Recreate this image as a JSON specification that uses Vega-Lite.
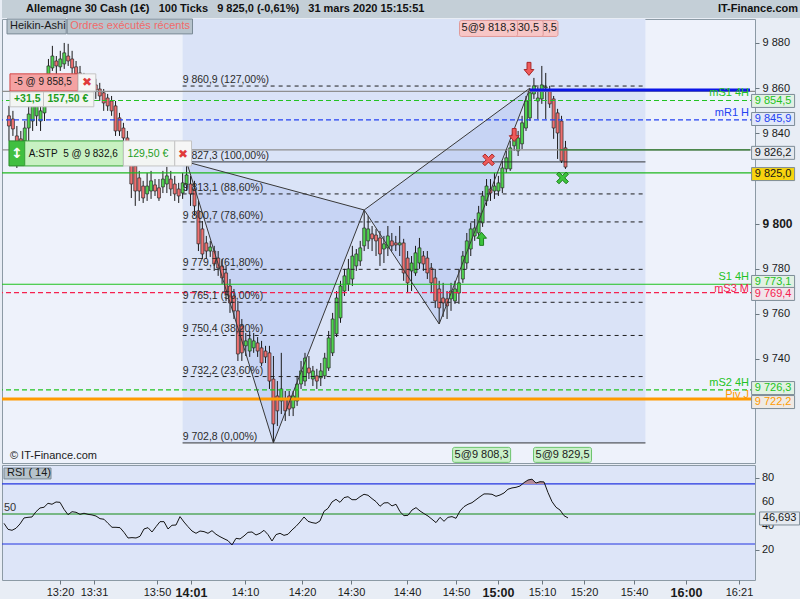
{
  "$schema": "https://vega.github.io/schema/vega-lite/v6.json",
  "description": "Allemagne 30 Cash, bougies Heikin-Ashi 100 ticks avec retracements de Fibonacci et RSI(14)",
  "background": "#e8edf5",
  "padding": 0,
  "spacing": 0,
  "config": {"font": "Liberation Sans", "view": {"stroke": null}, "axis": {"labelOverlap": false, "labelBound": false}},
  "datasets": {
    "bougies": [
      {"i":0,"o":9847.7,"h":9852.1,"l":9836.6,"c":9843.2},{"i":1,"o":9846.3,"h":9849.9,"l":9838.8,"c":9841.9},
      {"i":2,"o":9838.8,"h":9843.2,"l":9824.6,"c":9834.4},{"i":3,"o":9837.5,"h":9841.0,"l":9825.5,"c":9835.7},
      {"i":4,"o":9836.6,"h":9845.4,"l":9832.2,"c":9842.3},{"i":5,"o":9842.3,"h":9852.1,"l":9836.6,"c":9848.5},
      {"i":6,"o":9845.4,"h":9856.5,"l":9841.0,"c":9852.1},{"i":7,"o":9847.7,"h":9858.7,"l":9843.2,"c":9855.6},
      {"i":8,"o":9845.4,"h":9856.5,"l":9841.0,"c":9849.9},{"i":9,"o":9849.0,"h":9863.2,"l":9845.4,"c":9858.7},
      {"i":10,"o":9863.2,"h":9872.9,"l":9858.7,"c":9869.8},{"i":11,"o":9868.9,"h":9878.7,"l":9867.6,"c":9874.2},
      {"i":12,"o":9872.0,"h":9874.2,"l":9865.4,"c":9869.8},{"i":13,"o":9869.4,"h":9876.5,"l":9867.6,"c":9872.9},
      {"i":14,"o":9870.7,"h":9880.0,"l":9868.5,"c":9875.6},{"i":15,"o":9874.2,"h":9879.6,"l":9869.8,"c":9872.0},
      {"i":16,"o":9872.9,"h":9876.5,"l":9865.4,"c":9868.9},{"i":17,"o":9869.4,"h":9872.0,"l":9863.2,"c":9866.3},
      {"i":18,"o":9866.7,"h":9869.8,"l":9858.7,"c":9863.2},{"i":19,"o":9864.1,"h":9866.7,"l":9857.9,"c":9861.4},
      {"i":20,"o":9863.2,"h":9865.4,"l":9856.5,"c":9860.5},{"i":21,"o":9862.3,"h":9864.5,"l":9855.6,"c":9859.6},
      {"i":22,"o":9861.4,"h":9864.1,"l":9855.2,"c":9859.2},{"i":23,"o":9859.6,"h":9862.3,"l":9854.3,"c":9856.5},
      {"i":24,"o":9857.9,"h":9859.6,"l":9849.9,"c":9853.4},{"i":25,"o":9855.6,"h":9857.4,"l":9849.9,"c":9852.1},
      {"i":26,"o":9854.3,"h":9856.5,"l":9847.7,"c":9849.9},{"i":27,"o":9852.1,"h":9854.3,"l":9838.8,"c":9841.0},
      {"i":28,"o":9846.8,"h":9849.0,"l":9838.8,"c":9841.0},{"i":29,"o":9842.3,"h":9844.6,"l":9835.7,"c":9837.9},
      {"i":30,"o":9837.9,"h":9841.0,"l":9832.2,"c":9834.4},{"i":31,"o":9829.1,"h":9834.4,"l":9811.3,"c":9817.5},
      {"i":32,"o":9825.5,"h":9827.7,"l":9807.8,"c":9814.4},{"i":33,"o":9820.2,"h":9823.3,"l":9810.0,"c":9814.4},
      {"i":34,"o":9816.6,"h":9818.9,"l":9809.1,"c":9811.3},{"i":35,"o":9813.1,"h":9822.4,"l":9810.0,"c":9816.6},
      {"i":36,"o":9814.4,"h":9823.3,"l":9810.9,"c":9818.9},{"i":37,"o":9817.1,"h":9819.7,"l":9812.2,"c":9814.4},
      {"i":38,"o":9815.8,"h":9819.7,"l":9810.0,"c":9811.3},{"i":39,"o":9816.2,"h":9823.3,"l":9813.5,"c":9819.7},
      {"i":40,"o":9817.5,"h":9825.1,"l":9813.5,"c":9821.1},{"i":41,"o":9819.7,"h":9823.3,"l":9812.2,"c":9815.3},
      {"i":42,"o":9817.5,"h":9821.1,"l":9810.0,"c":9813.1},{"i":43,"o":9815.3,"h":9818.0,"l":9809.1,"c":9812.2},
      {"i":44,"o":9813.5,"h":9822.4,"l":9810.9,"c":9818.0},{"i":45,"o":9817.1,"h":9827.3,"l":9814.4,"c":9821.5},
      {"i":46,"o":9817.5,"h":9821.1,"l":9807.8,"c":9813.1},{"i":47,"o":9815.3,"h":9818.9,"l":9803.4,"c":9807.8},
      {"i":48,"o":9805.6,"h":9810.0,"l":9787.8,"c":9791.0},{"i":49,"o":9797.6,"h":9801.1,"l":9784.3,"c":9786.5},
      {"i":50,"o":9791.4,"h":9794.5,"l":9784.3,"c":9787.8},{"i":51,"o":9787.8,"h":9792.3,"l":9785.2,"c":9789.6},
      {"i":52,"o":9787.8,"h":9790.1,"l":9779.0,"c":9782.1},{"i":53,"o":9784.7,"h":9787.8,"l":9776.8,"c":9780.3},
      {"i":54,"o":9781.2,"h":9784.3,"l":9773.2,"c":9775.9},{"i":55,"o":9778.1,"h":9781.2,"l":9765.7,"c":9769.2},
      {"i":56,"o":9772.3,"h":9775.4,"l":9760.4,"c":9764.8},{"i":57,"o":9767.9,"h":9771.0,"l":9757.7,"c":9761.3},
      {"i":58,"o":9761.3,"h":9765.7,"l":9739.1,"c":9742.2},{"i":59,"o":9754.6,"h":9757.7,"l":9739.1,"c":9742.7},
      {"i":60,"o":9745.8,"h":9751.5,"l":9741.3,"c":9748.0},{"i":61,"o":9743.5,"h":9752.4,"l":9740.9,"c":9748.9},
      {"i":62,"o":9744.9,"h":9751.5,"l":9742.7,"c":9748.0},{"i":63,"o":9747.1,"h":9749.7,"l":9740.9,"c":9743.5},
      {"i":64,"o":9744.9,"h":9748.0,"l":9736.9,"c":9738.2},{"i":65,"o":9743.5,"h":9745.8,"l":9738.2,"c":9740.9},
      {"i":66,"o":9742.7,"h":9745.8,"l":9726.7,"c":9730.2},{"i":67,"o":9731.1,"h":9741.3,"l":9702.8,"c":9711.2},
      {"i":68,"o":9723.6,"h":9730.2,"l":9710.3,"c":9717.0},{"i":69,"o":9721.4,"h":9742.7,"l":9715.6,"c":9726.7},
      {"i":70,"o":9722.3,"h":9725.8,"l":9712.5,"c":9717.0},{"i":71,"o":9723.6,"h":9725.8,"l":9714.7,"c":9717.8},
      {"i":72,"o":9718.3,"h":9725.8,"l":9714.7,"c":9723.6},{"i":73,"o":9721.4,"h":9732.5,"l":9719.2,"c":9728.9},
      {"i":74,"o":9728.9,"h":9739.1,"l":9726.7,"c":9734.7},{"i":75,"o":9730.2,"h":9742.7,"l":9728.0,"c":9740.4},
      {"i":76,"o":9736.0,"h":9741.3,"l":9731.1,"c":9733.8},{"i":77,"o":9731.1,"h":9736.9,"l":9728.0,"c":9734.7},
      {"i":78,"o":9732.5,"h":9735.6,"l":9726.7,"c":9730.2},{"i":79,"o":9731.6,"h":9738.2,"l":9728.0,"c":9734.7},
      {"i":80,"o":9732.5,"h":9742.7,"l":9731.1,"c":9740.4},{"i":81,"o":9736.0,"h":9752.4,"l":9734.7,"c":9749.3},
      {"i":82,"o":9742.7,"h":9760.4,"l":9741.3,"c":9757.7},{"i":83,"o":9751.1,"h":9770.1,"l":9749.7,"c":9767.0},
      {"i":84,"o":9758.2,"h":9774.6,"l":9756.0,"c":9772.3},{"i":85,"o":9770.1,"h":9779.9,"l":9767.9,"c":9776.8},
      {"i":86,"o":9773.2,"h":9784.3,"l":9770.1,"c":9779.9},{"i":87,"o":9775.4,"h":9790.1,"l":9772.3,"c":9785.6},
      {"i":88,"o":9781.2,"h":9788.7,"l":9779.0,"c":9786.5},{"i":89,"o":9783.4,"h":9792.3,"l":9781.2,"c":9789.2},
      {"i":90,"o":9790.1,"h":9806.0,"l":9787.8,"c":9798.0},{"i":91,"o":9792.3,"h":9803.4,"l":9788.7,"c":9797.6},
      {"i":92,"o":9795.4,"h":9798.9,"l":9787.8,"c":9793.2},{"i":93,"o":9794.9,"h":9797.6,"l":9785.6,"c":9792.3},
      {"i":94,"o":9793.6,"h":9796.7,"l":9781.2,"c":9786.5},{"i":95,"o":9788.7,"h":9794.5,"l":9782.5,"c":9791.0},
      {"i":96,"o":9789.2,"h":9798.9,"l":9785.6,"c":9794.5},{"i":97,"o":9792.3,"h":9795.8,"l":9787.8,"c":9790.1},
      {"i":98,"o":9791.4,"h":9794.5,"l":9787.8,"c":9790.5},{"i":99,"o":9790.5,"h":9798.9,"l":9785.6,"c":9791.4},
      {"i":100,"o":9791.4,"h":9793.2,"l":9774.6,"c":9778.1},{"i":101,"o":9784.7,"h":9787.8,"l":9769.2,"c":9773.7},
      {"i":102,"o":9779.0,"h":9785.6,"l":9770.1,"c":9782.5},{"i":103,"o":9778.1,"h":9790.1,"l":9776.8,"c":9787.0},
      {"i":104,"o":9782.5,"h":9793.6,"l":9779.9,"c":9789.2},{"i":105,"o":9785.6,"h":9787.8,"l":9779.0,"c":9782.1},
      {"i":106,"o":9784.7,"h":9787.8,"l":9775.4,"c":9778.1},{"i":107,"o":9780.3,"h":9782.5,"l":9769.2,"c":9773.7},
      {"i":108,"o":9775.9,"h":9779.9,"l":9762.6,"c":9765.7},{"i":109,"o":9771.0,"h":9774.6,"l":9755.5,"c":9762.6},
      {"i":110,"o":9767.0,"h":9773.7,"l":9758.6,"c":9764.8},{"i":111,"o":9766.6,"h":9770.1,"l":9757.7,"c":9763.5},
      {"i":112,"o":9766.6,"h":9773.7,"l":9761.3,"c":9770.1},{"i":113,"o":9765.7,"h":9774.6,"l":9764.4,"c":9771.0},
      {"i":114,"o":9769.2,"h":9779.9,"l":9764.4,"c":9773.7},{"i":115,"o":9775.4,"h":9787.8,"l":9773.7,"c":9785.6},
      {"i":116,"o":9782.5,"h":9795.8,"l":9779.9,"c":9792.3},{"i":117,"o":9788.7,"h":9800.3,"l":9785.6,"c":9797.6},
      {"i":118,"o":9794.5,"h":9802.0,"l":9792.3,"c":9798.0},{"i":119,"o":9795.8,"h":9807.8,"l":9793.2,"c":9804.7},
      {"i":120,"o":9800.3,"h":9814.4,"l":9798.5,"c":9812.2},{"i":121,"o":9810.0,"h":9819.7,"l":9807.8,"c":9816.6},
      {"i":122,"o":9815.3,"h":9819.7,"l":9810.0,"c":9813.5},{"i":123,"o":9814.4,"h":9822.4,"l":9810.9,"c":9816.6},
      {"i":124,"o":9814.4,"h":9821.1,"l":9812.2,"c":9818.0},{"i":125,"o":9815.8,"h":9827.7,"l":9813.5,"c":9824.6},
      {"i":126,"o":9824.2,"h":9832.2,"l":9822.4,"c":9829.1},{"i":127,"o":9824.2,"h":9836.6,"l":9823.3,"c":9833.5},
      {"i":128,"o":9834.4,"h":9841.9,"l":9832.2,"c":9838.8},{"i":129,"o":9832.2,"h":9841.0,"l":9829.9,"c":9837.9},
      {"i":130,"o":9835.3,"h":9847.7,"l":9833.0,"c":9844.6},{"i":131,"o":9842.3,"h":9856.5,"l":9841.0,"c":9854.3},
      {"i":132,"o":9846.8,"h":9859.6,"l":9845.4,"c":9857.9},{"i":133,"o":9857.4,"h":9864.5,"l":9855.2,"c":9861.0},
      {"i":134,"o":9854.3,"h":9860.5,"l":9846.3,"c":9855.6},{"i":135,"o":9855.2,"h":9869.8,"l":9853.0,"c":9861.4},
      {"i":136,"o":9860.1,"h":9866.7,"l":9846.3,"c":9860.5},{"i":137,"o":9858.7,"h":9861.0,"l":9851.2,"c":9853.0},
      {"i":138,"o":9855.2,"h":9856.5,"l":9837.5,"c":9842.3},{"i":139,"o":9849.0,"h":9850.8,"l":9828.6,"c":9840.1},
      {"i":140,"o":9845.4,"h":9847.7,"l":9826.8,"c":9827.7},{"i":141,"o":9833.5,"h":9836.6,"l":9824.2,"c":9825.0}
    ],
    "rsi": [
      {"i":0,"rsi":42.2},{"i":1,"rsi":37.2},{"i":2,"rsi":36.4},{"i":3,"rsi":38.1},{"i":4,"rsi":41.7},{"i":5,"rsi":46.7},
      {"i":6,"rsi":47.2},{"i":7,"rsi":47.5},{"i":8,"rsi":51.9},{"i":9,"rsi":55.0},{"i":10,"rsi":55.6},{"i":11,"rsi":58.9},
      {"i":12,"rsi":58.1},{"i":13,"rsi":60.0},{"i":14,"rsi":59.7},{"i":15,"rsi":53.9},{"i":16,"rsi":49.4},{"i":17,"rsi":51.9},
      {"i":18,"rsi":51.4},{"i":19,"rsi":49.7},{"i":20,"rsi":50.6},{"i":21,"rsi":49.7},{"i":22,"rsi":49.2},{"i":23,"rsi":48.3},
      {"i":24,"rsi":46.1},{"i":25,"rsi":45.6},{"i":26,"rsi":42.2},{"i":27,"rsi":38.9},{"i":28,"rsi":38.9},{"i":29,"rsi":38.6},
      {"i":30,"rsi":34.7},{"i":31,"rsi":30.0},{"i":32,"rsi":30.3},{"i":33,"rsi":30.0},{"i":34,"rsi":31.4},{"i":35,"rsi":37.5},
      {"i":36,"rsi":38.6},{"i":37,"rsi":35.0},{"i":38,"rsi":39.4},{"i":39,"rsi":43.6},{"i":40,"rsi":43.6},{"i":41,"rsi":37.5},
      {"i":42,"rsi":40.6},{"i":43,"rsi":40.8},{"i":44,"rsi":47.8},{"i":45,"rsi":43.3},{"i":46,"rsi":39.4},{"i":47,"rsi":35.8},
      {"i":48,"rsi":33.9},{"i":49,"rsi":35.8},{"i":50,"rsi":35.3},{"i":51,"rsi":33.9},{"i":52,"rsi":36.1},{"i":53,"rsi":33.1},
      {"i":54,"rsi":31.1},{"i":55,"rsi":29.4},{"i":56,"rsi":27.8},{"i":57,"rsi":24.2},{"i":58,"rsi":29.7},{"i":59,"rsi":29.2},
      {"i":60,"rsi":31.7},{"i":61,"rsi":34.7},{"i":62,"rsi":35.0},{"i":63,"rsi":32.5},{"i":64,"rsi":33.9},{"i":65,"rsi":36.4},
      {"i":66,"rsi":32.8},{"i":67,"rsi":27.5},{"i":68,"rsi":32.8},{"i":69,"rsi":33.9},{"i":70,"rsi":32.2},{"i":71,"rsi":33.1},
      {"i":72,"rsi":36.7},{"i":73,"rsi":39.7},{"i":74,"rsi":43.3},{"i":75,"rsi":47.5},{"i":76,"rsi":43.9},{"i":77,"rsi":42.8},
      {"i":78,"rsi":42.2},{"i":79,"rsi":44.2},{"i":80,"rsi":52.2},{"i":81,"rsi":54.7},{"i":82,"rsi":60.0},{"i":83,"rsi":62.2},
      {"i":84,"rsi":59.7},{"i":85,"rsi":63.6},{"i":86,"rsi":64.4},{"i":87,"rsi":61.9},{"i":88,"rsi":61.9},{"i":89,"rsi":64.4},
      {"i":90,"rsi":66.4},{"i":91,"rsi":65.6},{"i":92,"rsi":62.8},{"i":93,"rsi":60.3},{"i":94,"rsi":56.4},{"i":95,"rsi":59.2},
      {"i":96,"rsi":59.4},{"i":97,"rsi":56.7},{"i":98,"rsi":58.1},{"i":99,"rsi":51.9},{"i":100,"rsi":48.6},{"i":101,"rsi":48.9},
      {"i":102,"rsi":53.3},{"i":103,"rsi":55.3},{"i":104,"rsi":52.5},{"i":105,"rsi":50.3},{"i":106,"rsi":48.3},{"i":107,"rsi":45.6},
      {"i":108,"rsi":42.8},{"i":109,"rsi":47.2},{"i":110,"rsi":43.9},{"i":111,"rsi":47.2},{"i":112,"rsi":47.8},{"i":113,"rsi":46.4},
      {"i":114,"rsi":52.5},{"i":115,"rsi":56.1},{"i":116,"rsi":58.1},{"i":117,"rsi":59.4},{"i":118,"rsi":61.9},{"i":119,"rsi":64.4},
      {"i":120,"rsi":66.7},{"i":121,"rsi":66.7},{"i":122,"rsi":66.4},{"i":123,"rsi":64.7},{"i":124,"rsi":65.8},{"i":125,"rsi":67.5},
      {"i":126,"rsi":70.6},{"i":127,"rsi":71.7},{"i":128,"rsi":72.2},{"i":129,"rsi":73.3},{"i":130,"rsi":76.1},{"i":131,"rsi":78.3},
      {"i":132,"rsi":79.0},{"i":133,"rsi":75.8},{"i":134,"rsi":76.9},{"i":135,"rsi":76.7},{"i":136,"rsi":67.8},{"i":137,"rsi":60.3},
      {"i":138,"rsi":55.6},{"i":139,"rsi":53.3},{"i":140,"rsi":48.6},{"i":141,"rsi":46.7}
    ],
    "rsiNiveaux": [{"niveau": 75}, {"niveau": 50}, {"niveau": 25}],
    "rsiGraduations": [{"valeur": 20}, {"valeur": 40}, {"valeur": 60}, {"valeur": 80}],
    "niveaux": [
      {"nom": "Ordre", "prix": 9858.5},
      {"nom": "mS1 4H", "prix": 9854.5},
      {"nom": "mR1 H", "prix": 9845.9},
      {"nom": "Stop", "prix": 9832.6},
      {"nom": "Niveau", "prix": 9822.4},
      {"nom": "S1 4H", "prix": 9773.1},
      {"nom": "mS3 M", "prix": 9769.4},
      {"nom": "mS2 4H", "prix": 9726.3},
      {"nom": "Piv J", "prix": 9722.2}
    ],
    "segments": [
      {"nom": "Tendance", "prix": 9859.1, "debut": 132},
      {"nom": "Stop suiveur", "prix": 9832.6, "debut": 139.5}
    ],
    "fibo": [
      {"prix": 9860.9, "pct": 127, "texte": "9 860,9 (127,00%)"},
      {"prix": 9827.3, "pct": 100, "texte": "9 827,3 (100,00%)"},
      {"prix": 9813.1, "pct": 88.6, "texte": "9 813,1 (88,60%)"},
      {"prix": 9800.7, "pct": 78.6, "texte": "9 800,7 (78,60%)"},
      {"prix": 9779.7, "pct": 61.8, "texte": "9 779,7 (61,80%)"},
      {"prix": 9765.1, "pct": 50, "texte": "9 765,1 (50,00%)"},
      {"prix": 9750.4, "pct": 38.2, "texte": "9 750,4 (38,20%)"},
      {"prix": 9732.2, "pct": 23.6, "texte": "9 732,2 (23,60%)"},
      {"prix": 9702.8, "pct": 0, "texte": "9 702,8 (0,00%)"}
    ],
    "triangles": [
      {"tri": "XAB", "bar": 45, "haut": 9827.3, "bas": 9827.3},
      {"tri": "XAB", "bar": 67, "haut": 9816.9, "bas": 9702.8},
      {"tri": "XAB", "bar": 90, "haut": 9806.0, "bas": 9806.0},
      {"tri": "BCD", "bar": 90, "haut": 9806.0, "bas": 9806.0},
      {"tri": "BCD", "bar": 109, "haut": 9830.4, "bas": 9755.5},
      {"tri": "BCD", "bar": 132, "haut": 9860.0, "bas": 9860.0}
    ],
    "motif": [
      {"trace": "XABCD", "ordre": 1, "bar": 45, "prix": 9827.3},
      {"trace": "XABCD", "ordre": 2, "bar": 67, "prix": 9702.8},
      {"trace": "XABCD", "ordre": 3, "bar": 90, "prix": 9806.0},
      {"trace": "XABCD", "ordre": 4, "bar": 109, "prix": 9755.5},
      {"trace": "XABCD", "ordre": 5, "bar": 132, "prix": 9860.0},
      {"trace": "XBD", "ordre": 1, "bar": 45, "prix": 9827.3},
      {"trace": "XBD", "ordre": 2, "bar": 90, "prix": 9806.0},
      {"trace": "XBD", "ordre": 3, "bar": 132, "prix": 9860.0}
    ],
    "executions": [
      {"bar": 119.75, "prix": 9793.2, "genre": "achat", "texte": "5@9 808,3", "visible": "5@9 808,3"},
      {"bar": 121.5, "prix": 9828.2, "genre": "clôture achat", "texte": "5@9 818,3", "visible": "5@9 818,3"},
      {"bar": 128, "prix": 9839.2, "genre": "vente", "texte": "5@9 830,5", "visible": "30,5"},
      {"bar": 131.75, "prix": 9868.5, "genre": "vente", "texte": "5@9 858,5", "visible": "8,5"},
      {"bar": 140.25, "prix": 9820.2, "genre": "clôture vente", "texte": "5@9 829,5", "visible": "5@9 829,5"}
    ],
    "etiquettes": [
      {"nom": "mS1 4H", "texte": "9 854,5", "prix": 9854.3},
      {"nom": "mR1 H", "texte": "9 845,9", "prix": 9846.3},
      {"nom": "HA", "texte": "9 826,2", "prix": 9831.3},
      {"nom": "Cours", "texte": "9 825,0", "prix": 9821.9},
      {"nom": "S1 4H", "texte": "9 773,1", "prix": 9774.1},
      {"nom": "mS3 M", "texte": "9 769,4", "prix": 9768.8},
      {"nom": "mS2 4H", "texte": "9 726,3", "prix": 9727.1},
      {"nom": "Piv J", "texte": "9 722,2", "prix": 9720.9}
    ]
  },
  "vconcat": [
    {
      "width": 800,
      "height": 18,
      "view": {"fill": "#c4cfd7", "stroke": null},
      "data": {"values": [
        {"cote": "gauche", "texte": "Allemagne 30 Cash (1€)\u00a0\u00a0\u00a0100 Ticks\u00a0\u00a0\u00a09 825,0 (-0,61%)\u00a0\u00a0\u00a031 mars 2020 15:15:51"},
        {"cote": "droite", "texte": "IT-Finance.com"}
      ]},
      "encoding": {
        "x": {"field": "cote", "type": "nominal", "scale": {"domain": ["gauche", "droite"], "range": [24, 796], "padding": 0}, "axis": null},
        "text": {"field": "texte"}
      },
      "layer": [
        {"transform": [{"filter": "datum.cote == 'gauche'"}], "mark": {"type": "text", "align": "left", "fontSize": 11, "fontWeight": "bold", "color": "#111111"}},
        {"transform": [{"filter": "datum.cote == 'droite'"}], "mark": {"type": "text", "align": "right", "fontSize": 11, "fontWeight": "bold", "color": "#111111"}}
      ]
    },
    {
      "spacing": 0,
      "vconcat": [
        {
          "width": 753,
          "height": 444,
          "view": {"fill": "#eef2fb", "stroke": "#8c9aa5"},
          "layer": [
            {
              "data": {"name": "fibo"},
              "transform": [{"filter": "datum.pct == 0"}],
              "mark": {"type": "rect", "fill": "#dae3f7"},
              "encoding": {
                "x": {"datum": 44, "type": "quantitative", "axis": null},
                "x2": {"datum": 161.25},
                "y": {"field": "prix", "type": "quantitative"},
                "y2": {"datum": 9890.6}
              }
            },
            {
              "data": {"name": "triangles"},
              "mark": {"type": "area", "fill": "#c7d4f4", "interpolate": "linear"},
              "encoding": {
                "x": {"field": "bar", "type": "quantitative", "axis": null},
                "y": {"field": "haut", "type": "quantitative"},
                "y2": {"field": "bas"},
                "detail": {"field": "tri"}
              }
            },
            {
              "data": {"name": "bougies"},
              "mark": {"type": "rule", "color": "#1a1a1a", "strokeWidth": 1},
              "encoding": {
                "x": {"field": "i", "type": "quantitative", "scale": {"domain": [-0.5, 187.75], "nice": false, "zero": false}, "axis": null},
                "y": {
                  "field": "l", "type": "quantitative",
                  "scale": {"domain": [9693.9, 9890.6], "nice": false, "zero": false},
                  "axis": {
                    "orient": "right",
                    "values": [9740, 9760, 9780, 9800, 9840, 9860, 9880],
                    "labelExpr": "replace(format(datum.value, ','), ',', ' ')",
                    "labelFontSize": {"condition": {"test": "datum.value == 9800", "value": 12}, "value": 11},
                    "labelFontWeight": {"condition": {"test": "datum.value == 9800", "value": "bold"}, "value": "normal"},
                    "domain": false, "grid": false, "ticks": true, "tickSize": 4, "tickColor": "#6b7780",
                    "labelColor": "#1a1a1a", "labelPadding": 3, "title": null, "labelFlush": false, "labelOverlap": false
                  }
                },
                "y2": {"field": "h"}
              }
            },
            {
              "data": {"name": "bougies"},
              "mark": {"type": "bar", "width": 3, "stroke": "#2a2a2a", "strokeWidth": 0.7},
              "encoding": {
                "x": {"field": "i", "type": "quantitative", "axis": null},
                "y": {"field": "o", "type": "quantitative"},
                "y2": {"field": "c"},
                "fill": {"condition": {"test": "datum.c >= datum.o", "value": "#4fd34f"}, "value": "#ee7070"}
              }
            },
            {
              "data": {"name": "fibo"},
              "mark": {"type": "rule", "color": "#1e1e1e", "strokeWidth": 1},
              "encoding": {
                "x": {"datum": 44, "type": "quantitative", "axis": null},
                "x2": {"datum": 161.25},
                "y": {"field": "prix", "type": "quantitative"},
                "strokeDash": {"condition": {"test": "datum.pct == 0 || datum.pct == 100", "value": [1, 0]}, "value": [4, 4]}
              }
            },
            {
              "data": {"name": "niveaux"},
              "mark": {"type": "rule"},
              "encoding": {
                "y": {"field": "prix", "type": "quantitative"},
                "color": {
                  "field": "nom", "type": "nominal", "legend": null,
                  "scale": {
                    "domain": ["Ordre", "mS1 4H", "mR1 H", "Stop", "Niveau", "S1 4H", "mS3 M", "mS2 4H", "Piv J", "Tendance", "Stop suiveur", "HA", "Cours"],
                    "range": ["#8f8f8f", "#22c322", "#2442f2", "#8f8f8f", "#1fb81f", "#1fc21f", "#f5224f", "#22c322", "#ff9a00", "#0b16e8", "#2e7d2e", "#151515", "#151515"]
                  }
                },
                "strokeDash": {"condition": {"test": "indexof(['mS1 4H', 'mR1 H', 'mS3 M', 'mS2 4H'], datum.nom) >= 0", "value": [5, 3]}, "value": [1, 0]},
                "strokeWidth": {"condition": {"test": "datum.nom == 'Piv J'", "value": 3}, "value": 1.2}
              }
            },
            {
              "data": {"name": "segments"},
              "mark": {"type": "rule"},
              "encoding": {
                "x": {"field": "debut", "type": "quantitative", "axis": null},
                "x2": {"datum": 187.75},
                "y": {"field": "prix", "type": "quantitative"},
                "color": {"field": "nom", "type": "nominal", "legend": null},
                "strokeWidth": {"condition": {"test": "datum.nom == 'Tendance'", "value": 3}, "value": 1.2}
              }
            },
            {
              "data": {"name": "motif"},
              "mark": {"type": "line", "color": "#383838", "strokeWidth": 1},
              "encoding": {
                "x": {"field": "bar", "type": "quantitative", "axis": null},
                "y": {"field": "prix", "type": "quantitative"},
                "detail": {"field": "trace"},
                "order": {"field": "ordre"}
              }
            },
            {
              "data": {"name": "fibo"},
              "mark": {"type": "text", "align": "left", "baseline": "alphabetic", "dy": -3, "fontSize": 10.5, "color": "#2b2b2b"},
              "encoding": {
                "x": {"datum": 44, "type": "quantitative", "axis": null},
                "y": {"field": "prix", "type": "quantitative"},
                "text": {"field": "texte"}
              }
            },
            {
              "data": {"name": "niveaux"},
              "transform": [{"filter": "indexof(['mS1 4H', 'mR1 H', 'S1 4H', 'mS2 4H'], datum.nom) >= 0"}],
              "mark": {"type": "text", "align": "right", "baseline": "alphabetic", "dy": -4, "fontSize": 11},
              "encoding": {
                "x": {"datum": 187.5, "type": "quantitative", "axis": null},
                "y": {"field": "prix", "type": "quantitative"},
                "text": {"field": "nom"},
                "color": {"field": "nom", "type": "nominal", "legend": null}
              }
            },
            {
              "data": {"name": "niveaux"},
              "transform": [{"filter": "indexof(['mS3 M', 'Piv J'], datum.nom) >= 0"}],
              "mark": {"type": "text", "align": "right", "baseline": "alphabetic", "dy": -1, "fontSize": 11},
              "encoding": {
                "x": {"datum": 187.5, "type": "quantitative", "axis": null},
                "y": {"field": "prix", "type": "quantitative"},
                "text": {"field": "nom"},
                "color": {"field": "nom", "type": "nominal", "legend": null}
              }
            },
            {
              "data": {"name": "executions"},
              "mark": {"type": "point", "filled": true, "size": 170, "opacity": 1, "strokeWidth": 1},
              "encoding": {
                "x": {"field": "bar", "type": "quantitative", "axis": null},
                "y": {"field": "prix", "type": "quantitative"},
                "shape": {
                  "field": "genre", "type": "nominal", "legend": null,
                  "scale": {
                    "domain": ["achat", "vente", "clôture achat", "clôture vente"],
                    "range": [
                      "M-0.3,1L0.3,1L0.3,-0.1L0.75,-0.1L0,-1L-0.75,-0.1L-0.3,-0.1Z",
                      "M-0.3,-1L0.3,-1L0.3,0.1L0.75,0.1L0,1L-0.75,0.1L-0.3,0.1Z",
                      "M-0.9,-0.55L-0.55,-0.9L0,-0.35L0.55,-0.9L0.9,-0.55L0.35,0L0.9,0.55L0.55,0.9L0,0.35L-0.55,0.9L-0.9,0.55L-0.35,0Z",
                      "M-0.9,-0.55L-0.55,-0.9L0,-0.35L0.55,-0.9L0.9,-0.55L0.35,0L0.9,0.55L0.55,0.9L0,0.35L-0.55,0.9L-0.9,0.55L-0.35,0Z"
                    ]
                  }
                },
                "fill": {"condition": {"test": "datum.genre == 'achat' || datum.genre == 'clôture vente'", "value": "#3cc43c"}, "value": "#ef5a5a"},
                "stroke": {"condition": {"test": "datum.genre == 'achat' || datum.genre == 'clôture vente'", "value": "#1d7d1d"}, "value": "#a82828"}
              }
            },
            {
              "data": {"name": "executions"},
              "transform": [{"filter": "datum.bar == 131.75"}],
              "mark": {"type": "rect", "width": 58, "height": 16, "fill": "#f7c6c6", "stroke": "#e09a9a", "cornerRadius": 2},
              "encoding": {
                "x": {"field": "bar", "type": "quantitative", "axis": null},
                "y": {"datum": 9886.4, "type": "quantitative"}
              }
            },
            {
              "data": {"name": "executions"},
              "transform": [{"filter": "datum.bar == 131.75"}],
              "mark": {"type": "text", "align": "right", "dx": 28, "fontSize": 11, "color": "#1a1a1a"},
              "encoding": {
                "x": {"field": "bar", "type": "quantitative", "axis": null},
                "y": {"datum": 9886.4, "type": "quantitative"},
                "text": {"field": "visible"}
              }
            },
            {
              "data": {"name": "executions"},
              "transform": [{"filter": "datum.bar == 128"}],
              "mark": {"type": "rect", "width": 58, "height": 16, "fill": "#f7c6c6", "stroke": "#e09a9a", "cornerRadius": 2},
              "encoding": {
                "x": {"field": "bar", "type": "quantitative", "axis": null},
                "y": {"datum": 9886.4, "type": "quantitative"}
              }
            },
            {
              "data": {"name": "executions"},
              "transform": [{"filter": "datum.bar == 128"}],
              "mark": {"type": "text", "align": "right", "dx": 25, "fontSize": 11, "color": "#1a1a1a"},
              "encoding": {
                "x": {"field": "bar", "type": "quantitative", "axis": null},
                "y": {"datum": 9886.4, "type": "quantitative"},
                "text": {"field": "visible"}
              }
            },
            {
              "data": {"name": "executions"},
              "transform": [{"filter": "datum.bar == 121.5"}],
              "mark": {"type": "rect", "width": 58, "height": 16, "fill": "#f7c6c6", "stroke": "#e09a9a", "cornerRadius": 2},
              "encoding": {
                "x": {"field": "bar", "type": "quantitative", "axis": null},
                "y": {"datum": 9886.4, "type": "quantitative"}
              }
            },
            {
              "data": {"name": "executions"},
              "transform": [{"filter": "datum.bar == 121.5"}],
              "mark": {"type": "text", "fontSize": 11, "color": "#1a1a1a"},
              "encoding": {
                "x": {"field": "bar", "type": "quantitative", "axis": null},
                "y": {"datum": 9886.4, "type": "quantitative"},
                "text": {"field": "visible"}
              }
            },
            {
              "data": {"name": "executions"},
              "transform": [{"filter": "datum.genre == 'achat' || datum.genre == 'clôture vente'"}],
              "mark": {"type": "rect", "width": 58, "height": 15, "fill": "#c9f0c9", "stroke": "#6cc36c", "cornerRadius": 2},
              "encoding": {
                "x": {"field": "bar", "type": "quantitative", "axis": null},
                "y": {"datum": 9697.5, "type": "quantitative"}
              }
            },
            {
              "data": {"name": "executions"},
              "transform": [{"filter": "datum.genre == 'achat' || datum.genre == 'clôture vente'"}],
              "mark": {"type": "text", "fontSize": 11, "color": "#1a1a1a"},
              "encoding": {
                "x": {"field": "bar", "type": "quantitative", "axis": null},
                "y": {"datum": 9697.5, "type": "quantitative"},
                "text": {"field": "visible"}
              }
            },
            {
              "data": {"values": [{"texte": "Heikin-Ashi"}]},
              "mark": {"type": "rect", "fill": "#b6c3cc", "stroke": "#7a8a96"},
              "encoding": {
                "x": {"datum": -0.5, "type": "quantitative", "axis": null}, "x2": {"datum": 14.5},
                "y": {"datum": 9890.6, "type": "quantitative"}, "y2": {"datum": 9884.0}
              }
            },
            {
              "data": {"values": [{"texte": "Heikin-Ashi"}]},
              "mark": {"type": "text", "align": "left", "fontSize": 11, "color": "#1a1a1a"},
              "encoding": {
                "x": {"datum": 0.25, "type": "quantitative", "axis": null},
                "y": {"datum": 9887.3, "type": "quantitative"},
                "text": {"field": "texte"}
              }
            },
            {
              "data": {"values": [{"texte": "Ordres exécutés récents"}]},
              "mark": {"type": "rect", "fill": "#b6c3cc", "stroke": "#7a8a96"},
              "encoding": {
                "x": {"datum": 14.75, "type": "quantitative", "axis": null}, "x2": {"datum": 46.5},
                "y": {"datum": 9890.6, "type": "quantitative"}, "y2": {"datum": 9884.0}
              }
            },
            {
              "data": {"values": [{"texte": "Ordres exécutés récents"}]},
              "mark": {"type": "text", "align": "left", "fontSize": 11, "color": "#f26a6a"},
              "encoding": {
                "x": {"datum": 15.5, "type": "quantitative", "axis": null},
                "y": {"datum": 9887.3, "type": "quantitative"},
                "text": {"field": "texte"}
              }
            },
            {
              "data": {"values": [{"texte": "© IT-Finance.com"}]},
              "mark": {"type": "text", "align": "left", "fontSize": 11, "color": "#1a1a1a"},
              "encoding": {
                "x": {"datum": 0.25, "type": "quantitative", "axis": null},
                "y": {"datum": 9697.0, "type": "quantitative"},
                "text": {"field": "texte"}
              }
            },
            {
              "data": {"values": [{"texte": "-5 @ 9 858,5"}]},
              "mark": {"type": "rect", "fill": "#f4a2a2", "stroke": "#d34848"},
              "encoding": {
                "x": {"datum": 0.25, "type": "quantitative", "axis": null}, "x2": {"datum": 17.5},
                "y": {"datum": 9866.3, "type": "quantitative"}, "y2": {"datum": 9858.7}
              }
            },
            {
              "data": {"values": [{"texte": "-5 @ 9 858,5"}]},
              "mark": {"type": "text", "align": "left", "fontSize": 10, "color": "#1a1a1a"},
              "encoding": {
                "x": {"datum": 1.25, "type": "quantitative", "axis": null},
                "y": {"datum": 9862.5, "type": "quantitative"},
                "text": {"field": "texte"}
              }
            },
            {
              "data": {"values": [{"texte": "✖"}]},
              "mark": {"type": "rect", "fill": "#f6f6f6", "stroke": "#c4c4c4"},
              "encoding": {
                "x": {"datum": 17.5, "type": "quantitative", "axis": null}, "x2": {"datum": 22},
                "y": {"datum": 9866.3, "type": "quantitative"}, "y2": {"datum": 9858.7}
              }
            },
            {
              "data": {"values": [{"texte": "✖"}]},
              "mark": {"type": "text", "align": "center", "font": "DejaVu Sans", "fontSize": 12, "color": "#e03a3a"},
              "encoding": {
                "x": {"datum": 19.75, "type": "quantitative", "axis": null},
                "y": {"datum": 9862.5, "type": "quantitative"},
                "text": {"field": "texte"}
              }
            },
            {
              "data": {"values": [{"texte": "+31,5"}]},
              "mark": {"type": "rect", "fill": "#f3f5f3", "stroke": "#c4c4c4"},
              "encoding": {
                "x": {"datum": 0.25, "type": "quantitative", "axis": null}, "x2": {"datum": 8.75},
                "y": {"datum": 9858.3, "type": "quantitative"}, "y2": {"datum": 9851.7}
              }
            },
            {
              "data": {"values": [{"texte": "+31,5"}]},
              "mark": {"type": "text", "align": "left", "fontSize": 10.5, "fontWeight": "bold", "color": "#1e9e1e"},
              "encoding": {
                "x": {"datum": 1.25, "type": "quantitative", "axis": null},
                "y": {"datum": 9855.0, "type": "quantitative"},
                "text": {"field": "texte"}
              }
            },
            {
              "data": {"values": [{"texte": "157,50 €"}]},
              "mark": {"type": "rect", "fill": "#f3f5f3", "stroke": "#c4c4c4"},
              "encoding": {
                "x": {"datum": 8.75, "type": "quantitative", "axis": null}, "x2": {"datum": 21.5},
                "y": {"datum": 9858.3, "type": "quantitative"}, "y2": {"datum": 9851.7}
              }
            },
            {
              "data": {"values": [{"texte": "157,50 €"}]},
              "mark": {"type": "text", "align": "left", "fontSize": 10.5, "fontWeight": "bold", "color": "#1e9e1e"},
              "encoding": {
                "x": {"datum": 9.75, "type": "quantitative", "axis": null},
                "y": {"datum": 9855.0, "type": "quantitative"},
                "text": {"field": "texte"}
              }
            },
            {
              "data": {"values": [{"texte": "↕"}]},
              "mark": {"type": "rect", "fill": "#41bf41", "stroke": "#2c8c2c"},
              "encoding": {
                "x": {"datum": 0, "type": "quantitative", "axis": null}, "x2": {"datum": 4},
                "y": {"datum": 9836.6, "type": "quantitative"}, "y2": {"datum": 9825.5}
              }
            },
            {
              "data": {"values": [{"texte": "↕"}]},
              "mark": {"type": "text", "align": "center", "font": "DejaVu Sans", "fontSize": 14, "fontWeight": "bold", "color": "#ffffff"},
              "encoding": {
                "x": {"datum": 2, "type": "quantitative", "axis": null},
                "y": {"datum": 9831.0, "type": "quantitative"},
                "text": {"field": "texte"}
              }
            },
            {
              "data": {"values": [{"texte": "A:STP\u00a0\u00a05 @ 9 832,6"}]},
              "mark": {"type": "rect", "fill": "#c8f1c2", "stroke": "#38a638"},
              "encoding": {
                "x": {"datum": 4, "type": "quantitative", "axis": null}, "x2": {"datum": 29},
                "y": {"datum": 9836.6, "type": "quantitative"}, "y2": {"datum": 9825.5}
              }
            },
            {
              "data": {"values": [{"texte": "A:STP\u00a0\u00a05 @ 9 832,6"}]},
              "mark": {"type": "text", "align": "left", "fontSize": 10, "color": "#111111"},
              "encoding": {
                "x": {"datum": 5, "type": "quantitative", "axis": null},
                "y": {"datum": 9831.0, "type": "quantitative"},
                "text": {"field": "texte"}
              }
            },
            {
              "data": {"values": [{"texte": "129,50 €"}]},
              "mark": {"type": "rect", "fill": "#f3f5f3", "stroke": "#c4c4c4"},
              "encoding": {
                "x": {"datum": 29, "type": "quantitative", "axis": null}, "x2": {"datum": 42},
                "y": {"datum": 9836.6, "type": "quantitative"}, "y2": {"datum": 9825.5}
              }
            },
            {
              "data": {"values": [{"texte": "129,50 €"}]},
              "mark": {"type": "text", "align": "left", "fontSize": 10.5, "color": "#1e9e1e"},
              "encoding": {
                "x": {"datum": 30, "type": "quantitative", "axis": null},
                "y": {"datum": 9831.0, "type": "quantitative"},
                "text": {"field": "texte"}
              }
            },
            {
              "data": {"values": [{"texte": "✖"}]},
              "mark": {"type": "rect", "fill": "#f6f6f6", "stroke": "#c4c4c4"},
              "encoding": {
                "x": {"datum": 42, "type": "quantitative", "axis": null}, "x2": {"datum": 46.25},
                "y": {"datum": 9836.6, "type": "quantitative"}, "y2": {"datum": 9825.5}
              }
            },
            {
              "data": {"values": [{"texte": "✖"}]},
              "mark": {"type": "text", "align": "center", "font": "DejaVu Sans", "fontSize": 12, "color": "#e03a3a"},
              "encoding": {
                "x": {"datum": 44.1, "type": "quantitative", "axis": null},
                "y": {"datum": 9831.0, "type": "quantitative"},
                "text": {"field": "texte"}
              }
            },
            {
              "data": {"name": "etiquettes"},
              "mark": {"type": "rect", "width": 43, "height": 13, "stroke": "#7d8c98", "strokeWidth": 1},
              "encoding": {
                "x": {"datum": 193.6, "type": "quantitative", "axis": null},
                "y": {"field": "prix", "type": "quantitative"},
                "fill": {
                  "field": "nom", "type": "nominal", "legend": null,
                  "scale": {
                    "domain": ["mS1 4H", "mR1 H", "HA", "Cours", "S1 4H", "mS3 M", "mS2 4H", "Piv J"],
                    "range": ["#e1f1e3", "#e0e7f8", "#e4e8ee", "#f7d40f", "#e1f1e3", "#f1e4ea", "#e1f1e3", "#efeae4"]
                  }
                }
              }
            },
            {
              "data": {"name": "etiquettes"},
              "mark": {"type": "text", "fontSize": 11, "align": "center", "baseline": "middle"},
              "encoding": {
                "x": {"datum": 193.6, "type": "quantitative", "axis": null},
                "y": {"field": "prix", "type": "quantitative"},
                "text": {"field": "texte"},
                "color": {"field": "nom", "type": "nominal", "legend": null}
              }
            }
          ]
        },
        {
          "width": 753,
          "height": 115,
          "view": {"fill": "#dde5f8", "stroke": "#8c9aa5"},
          "layer": [
            {
              "data": {"name": "rsiNiveaux"},
              "mark": {"type": "rule", "strokeWidth": 1.2},
              "encoding": {
                "y": {
                  "field": "niveau", "type": "quantitative",
                  "scale": {"domain": [-5, 90.8], "nice": false, "zero": false},
                  "axis": {
                    "orient": "right",
                    "values": [20, 40, 60, 80],
                    "labels": false,
                    "domain": false, "grid": false, "ticks": true, "tickSize": 4, "tickColor": "#6b7780",
                    "title": null
                  }
                },
                "color": {"condition": {"test": "datum.niveau == 50", "value": "#138a13"}, "value": "#2334e0"}
              }
            },
            {
              "data": {"name": "rsi"},
              "transform": [{"filter": "datum.rsi >= 75"}],
              "mark": {"type": "area", "fill": "#b38a9b", "opacity": 1},
              "encoding": {
                "x": {"field": "i", "type": "quantitative"},
                "y": {"field": "rsi", "type": "quantitative"},
                "y2": {"datum": 75}
              }
            },
            {
              "data": {"name": "rsi"},
              "mark": {"type": "line", "color": "#141414", "strokeWidth": 1},
              "encoding": {
                "x": {
                  "field": "i", "type": "quantitative",
                  "scale": {"domain": [-0.5, 187.75], "nice": false, "zero": false},
                  "axis": {
                    "values": [14, 22.5, 38.25, 46.75, 60.25, 74.5, 86.75, 100.75, 113, 123.5, 134.5, 145, 157.5, 170.5, 183.75],
                    "labelExpr": "['13:20','13:31','13:50','14:01','14:10','14:20','14:30','14:40','14:50','15:00','15:10','15:20','15:40','16:00','16:21'][indexof([14, 22.5, 38.25, 46.75, 60.25, 74.5, 86.75, 100.75, 113, 123.5, 134.5, 145, 157.5, 170.5, 183.75], datum.value)]",
                    "labelFontWeight": {"condition": {"test": "indexof([46.75, 123.5, 170.5], datum.value) >= 0", "value": "bold"}, "value": "normal"},
                    "labelFontSize": {"condition": {"test": "indexof([46.75, 123.5, 170.5], datum.value) >= 0", "value": 12.5}, "value": 11},
                    "domain": false, "grid": false, "ticks": true, "tickSize": 4, "tickColor": "#6b7780",
                    "labelColor": "#1a1a1a", "labelPadding": 2, "title": null, "labelFlush": false, "labelOverlap": false
                  }
                },
                "y": {"field": "rsi", "type": "quantitative"}
              }
            },
            {
              "data": {"name": "rsiGraduations"},
              "mark": {"type": "text", "align": "left", "baseline": "middle", "fontSize": 11, "color": "#1a1a1a"},
              "encoding": {
                "x": {"datum": 189.5, "type": "quantitative"},
                "y": {"field": "valeur", "type": "quantitative"},
                "text": {"field": "valeur", "type": "quantitative"}
              }
            },
            {
              "data": {"values": [{"texte": "50"}]},
              "mark": {"type": "text", "align": "left", "baseline": "alphabetic", "dy": -3, "fontSize": 11, "color": "#333333"},
              "encoding": {
                "x": {"datum": 0, "type": "quantitative"},
                "y": {"datum": 50, "type": "quantitative"},
                "text": {"field": "texte"}
              }
            },
            {
              "data": {"values": [{"texte": "RSI ( 14)"}]},
              "mark": {"type": "rect", "fill": "#b6c3cc", "stroke": "#7a8a96"},
              "encoding": {
                "x": {"datum": 0, "type": "quantitative"}, "x2": {"datum": 11.75},
                "y": {"datum": 88.3, "type": "quantitative"}, "y2": {"datum": 79.2}
              }
            },
            {
              "data": {"values": [{"texte": "RSI ( 14)"}]},
              "mark": {"type": "text", "align": "left", "fontSize": 11, "color": "#1a1a1a"},
              "encoding": {
                "x": {"datum": 0.75, "type": "quantitative"},
                "y": {"datum": 83.75, "type": "quantitative"},
                "text": {"field": "texte"}
              }
            },
            {
              "data": {"values": [{"texte": "46,693"}]},
              "mark": {"type": "rect", "width": 40, "height": 13, "fill": "#e6eaf0", "stroke": "#7d8c98"},
              "encoding": {
                "x": {"datum": 193.9, "type": "quantitative"},
                "y": {"datum": 46.25, "type": "quantitative"}
              }
            },
            {
              "data": {"values": [{"texte": "46,693"}]},
              "mark": {"type": "text", "fontSize": 11, "color": "#1a1a1a"},
              "encoding": {
                "x": {"datum": 193.9, "type": "quantitative"},
                "y": {"datum": 46.25, "type": "quantitative"},
                "text": {"field": "texte"}
              }
            }
          ]
        }
      ]
    }
  ]
}
